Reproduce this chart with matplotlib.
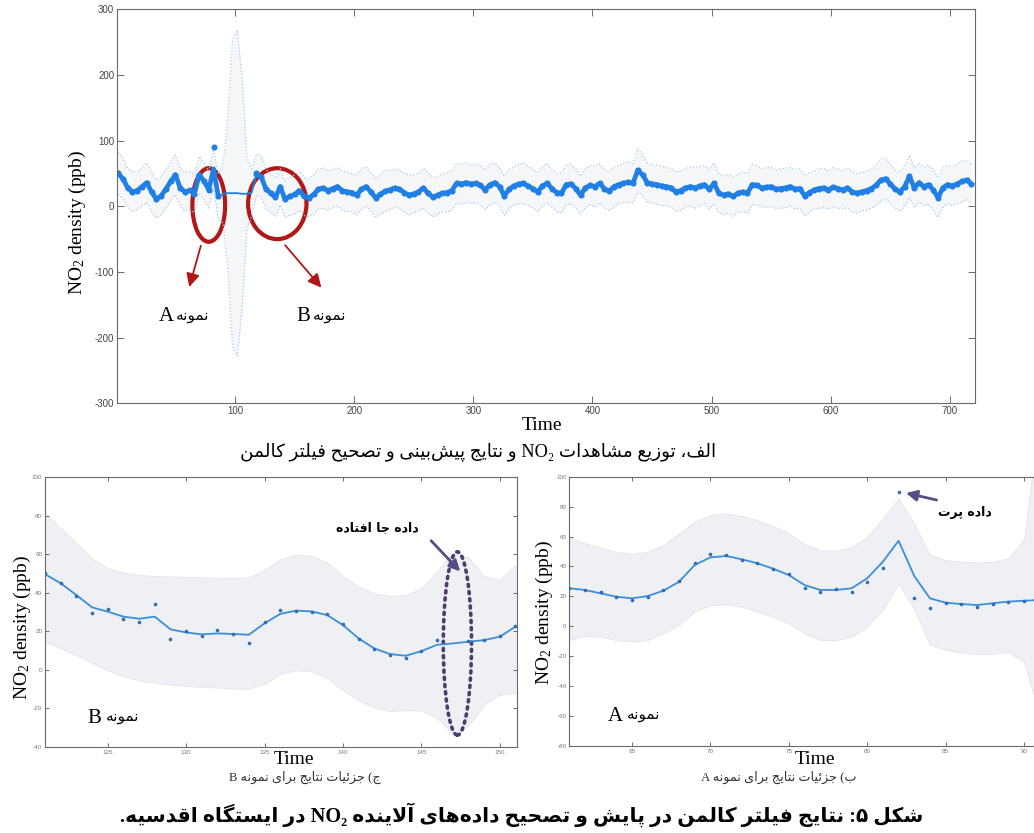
import numpy as np
import matplotlib
matplotlib.use('Agg')
import matplotlib.pyplot as plt
from matplotlib.patches import Ellipse

plt.rcParams['mathtext.fontset'] = 'custom'
plt.rcParams['mathtext.rm'] = 'Liberation Serif'
plt.rcParams['mathtext.it'] = 'Liberation Serif:italic'
plt.rcParams['axes.unicode_minus'] = False

# ---------------- data ----------------
# overview, every 4th hour (t = 2, 6, ..., 718); nan = missing observations
t_top = np.arange(2, 719, 4)
obs_top = np.array([
    50, 42, 28, 22, 24, 30, 36, 22, 11, 16,
    26, 38, 48, 28, 22, 24.3, 19.4, 48.1, 38.3, 25.2,
    89.8, 15.1, np.nan, np.nan, np.nan, np.nan, np.nan, np.nan, np.nan, 50,
    45.2, 26.2, 20.1, 13.7, 30.0, 10.6, 15.4, 18, 24, 15,
    13, 18, 26, 28, 24, 27, 30, 24, 22, 21,
    17, 26, 30, 22, 13, 18, 23, 25, 28, 26,
    21, 17, 19, 22, 28, 20, 14, 17, 20, 21,
    24, 35, 34, 36, 34, 35, 32, 25, 33, 36,
    30, 16, 26, 31, 34, 35, 31, 27, 22, 31,
    35, 27, 21, 20, 33, 34, 27, 17, 28, 32,
    30, 35, 27, 23, 30, 33, 35, 37, 35, 55,
    48, 36, 34, 33, 31, 30, 28, 22, 24, 28,
    30, 28, 31, 33, 26, 35, 20, 17, 19, 15,
    20, 22, 20, 33, 32, 28, 29, 30, 26, 27,
    28, 30, 26, 27, 16, 21, 25, 27, 28, 25,
    29, 27, 25, 28, 22, 20, 22, 24, 27, 32,
    40, 42, 34, 26, 22, 30, 46, 28, 36, 30,
    33, 25, 13, 28, 33, 31, 34, 38, 40, 34])
# filter estimate over t = 82 ... 118 (outlier and missing stretch)
est_gap = [57, 15, 19, 20, 20, 20, 19, 19, 21, 48]
# half width of the confidence band
hw_top = np.array([
    32, 31, 30, 30, 29, 29, 30, 30, 29, 29,
    29, 30, 30, 29, 29, 30, 29, 28, 28, 28,
    30, 34, 45, 115, 235, 248, 175, 55, 36, 32,
    31, 30, 29, 29, 28, 28, 29, 30, 30, 29,
    29, 30, 30, 31, 30, 29, 29, 30, 30, 29,
    30, 31, 30, 29, 30, 30, 31, 30, 29, 29,
    30, 30, 29, 29, 30, 31, 30, 29, 29, 30,
    30, 30, 31, 30, 29, 29, 30, 30, 31, 30,
    29, 30, 30, 29, 30, 31, 30, 29, 30, 30,
    30, 29, 29, 30, 31, 30, 30, 29, 30, 30,
    31, 30, 29, 30, 30, 29, 30, 31, 30, 33,
    31, 30, 29, 30, 30, 29, 29, 30, 30, 29,
    30, 31, 30, 29, 30, 31, 30, 29, 30, 30,
    29, 30, 30, 31, 30, 29, 30, 30, 29, 30,
    30, 29, 30, 30, 31, 30, 29, 30, 30, 29,
    30, 30, 29, 30, 31, 30, 29, 30, 30, 31,
    32, 31, 30, 29, 30, 31, 32, 30, 30, 29,
    30, 31, 30, 30, 29, 30, 30, 31, 30, 30])

# sample B, t = 121 ... 151
t_B = np.arange(121, 152)
obs_B = [50, 45.2, 38.5, 29.3, 31.4, 26.2, 25.0, 34.2, 16.1, 20.1,
         17.3, 20.5, 18.4, 13.7, 24.6, 30.9, 30.7, 30.0, 28.9, 23.8,
         16.0, 10.6, 7.8, 6.4, 9.7, 15.4, np.nan, 14.8, 15.4, 17.6, 22.8]
est_B = [49.6, 44.9, 38.8, 32.4, 30.2, 27.6, 26.5, 27.6, 21.0, 19.4,
         18.4, 18.9, 18.6, 18.2, 24.1, 29.0, 30.7, 30.3, 28.4, 23.2,
         16.3, 11.1, 8.2, 7.3, 9.7, 13.0, 13.7, 14.6, 15.4, 17.2, 22.4]
up_B = [81.3, 73.5, 65.7, 57.9, 52.7, 50.4, 49.2, 48.7, 48.4, 48.2,
        48.0, 47.8, 47.7, 48.0, 51.8, 57.4, 59.6, 59.1, 55.6, 48.7,
        43.2, 39.7, 38.3, 38.7, 42.3, 51.0, 60.8, 58.4, 48.7, 46.6, 54.4]
lo_B = [14.6, 11.1, 7.6, 3.7, -0.2, -3.3, -5.4, -6.7, -7.6, -8.3,
        -8.8, -9.2, -9.7, -9.9, -7.1, -2.2, -0.2, -0.7, -4.5, -10.5,
        -15.7, -19.6, -21.3, -20.9, -21, -25, -33, -29, -18, -13, -12]

# sample A, t = 61 ... 91
t_A = np.arange(61, 92)
obs_A = [25.4, 24.3, 22.7, 19.4, 17.8, 19.4, 24.3, 30.3, 42.5, 48.1,
         47.4, 44.3, 42.3, 38.3, 35.0, 25.4, 23.1, 25.2, 22.9, 29.4,
         38.7, 89.8, 18.7, 12.2, 15.8, 15.1, 13.1, 14.9, 16.5, 17.1, 17.6]
est_A = [25.4, 24.3, 22.0, 19.8, 18.7, 20.2, 23.8, 29.8, 41.0, 46.1,
         47.0, 44.8, 42.1, 38.5, 34.3, 27.6, 24.3, 24.3, 25.4, 32.1,
         43.2, 57.2, 33.6, 18.7, 15.8, 14.9, 14.2, 15.4, 16.5, 17.1, 17.6]
up_A = [59.9, 55.4, 52.7, 49.9, 48.3, 49.9, 54.3, 62.1, 69.9, 74.4,
        75.5, 73.7, 71.0, 67.0, 62.1, 55.0, 51.0, 50.5, 52.8, 59.9,
        72.2, 85.5, 68.8, 47.6, 44.3, 43.2, 42.7, 43.2, 45.5, 58, 140]
lo_A = [-9.2, -6.3, -7.0, -9.2, -10.3, -9.2, -4.7, 0.9, 9.8, 14.2,
        14.7, 13.1, 9.8, 6.4, 2.0, -4.7, -9.2, -9.2, -7.0, -0.2,
        10.9, 28.7, 10.9, -12.5, -15.8, -17.6, -18.5, -18.5, -17.0, -24, -60]

ylabel = r'NO$_2$ density (ppb)'
TXT_SAMPLE = 'نمونه'
TXT_OUTLIER = 'داده پرت'
TXT_MISSING = 'داده جا افتاده'
CAP_TOP = 'الف، توزیع مشاهدات NO₂ و نتایج پیش‌بینی و تصحیح فیلتر کالمن'
CAP_B = 'ج) جزئیات نتایج برای نمونه B'
CAP_A = 'ب) جزئیات نتایج برای نمونه A'
CAP_FIG = 'شکل ۵: نتایج فیلتر کالمن در پایش و تصحیح داده‌های آلاینده NO₂ در ایستگاه اقدسیه.'

# ------------- persian shaping (matplotlib has no complex text layout) -------------
FORMS = {
    'ا': ('\ufe8d', '\ufe8e'), 'آ': ('\ufe81', '\ufe82'),
    'د': ('\ufea9', '\ufeaa'), 'ر': ('\ufead', '\ufeae'),
    'ز': ('\ufeaf', '\ufeb0'), 'و': ('\ufeed', '\ufeee'),
    'ب': ('\ufe8f', '\ufe90', '\ufe91', '\ufe92'),
    'پ': ('\ufb56', '\ufb57', '\ufb58', '\ufb59'),
    'ت': ('\ufe95', '\ufe96', '\ufe97', '\ufe98'),
    'ج': ('\ufe9d', '\ufe9e', '\ufe9f', '\ufea0'),
    'ح': ('\ufea1', '\ufea2', '\ufea3', '\ufea4'),
    'س': ('\ufeb1', '\ufeb2', '\ufeb3', '\ufeb4'),
    'ش': ('\ufeb5', '\ufeb6', '\ufeb7', '\ufeb8'),
    'ص': ('\ufeb9', '\ufeba', '\ufebb', '\ufebc'),
    'ع': ('\ufec9', '\ufeca', '\ufecb', '\ufecc'),
    'ف': ('\ufed1', '\ufed2', '\ufed3', '\ufed4'),
    'ق': ('\ufed5', '\ufed6', '\ufed7', '\ufed8'),
    'ک': ('\ufb8e', '\ufb8f', '\ufb90', '\ufb91'),
    'گ': ('\ufb92', '\ufb93', '\ufb94', '\ufb95'),
    'ل': ('\ufedd', '\ufede', '\ufedf', '\ufee0'),
    'م': ('\ufee1', '\ufee2', '\ufee3', '\ufee4'),
    'ن': ('\ufee5', '\ufee6', '\ufee7', '\ufee8'),
    'ه': ('\ufee9', '\ufeea', '\ufeeb', '\ufeec'),
    'ی': ('\ufbfc', '\ufbfd', '\ufbfe', '\ufbff'),
    'ئ': ('\ufe89', '\ufe8a', '\ufe8b', '\ufe8c'),
}
MIRROR = {'(': ')', ')': '('}


def shape(s):
    out = []
    i = 0
    while i < len(s):
        ch = s[i]
        if ch not in FORMS:
            out.append(ch)
            i += 1
            continue
        prev = s[i - 1] if i else ''
        jp = prev in FORMS and len(FORMS[prev]) == 4
        if ch == 'ل' and s[i + 1:i + 2] == 'ا':
            out.append('\ufefc' if jp else '\ufefb')
            i += 2
            continue
        nxt = s[i + 1] if i + 1 < len(s) else ''
        f = FORMS[ch]
        jn = len(f) == 4 and nxt in FORMS
        if jp and jn:
            out.append(f[3])
        elif jp:
            out.append(f[1])
        elif jn:
            out.append(f[2])
        else:
            out.append(f[0])
        i += 1
    return ''.join(out).replace('\u200c', '')


def fa(s):
    runs = []
    for ch in shape(s):
        ltr = (ch.isascii() and ch.isalnum()) or ch == '\u2082'
        if runs and runs[-1][0] == ltr:
            runs[-1][1] += ch
        else:
            runs.append([ltr, ch])
    vis = ''
    for ltr, txt in reversed(runs):
        vis += txt if ltr else ''.join(MIRROR.get(c, c) for c in reversed(txt))
    return vis


SERIF = ['Liberation Serif', 'DejaVu Sans']
W, H = 1034, 833


def px(x, y):
    return x / W, 1 - y / H


def style(ax, size, color, length):
    ax.tick_params(direction='in', top=True, right=True, labelsize=size,
                   labelcolor=color, length=length, width=0.6, color='#555555', pad=2)
    for lab in ax.get_xticklabels() + ax.get_yticklabels():
        lab.set_fontfamily('Liberation Sans')
    for sp in ax.spines.values():
        sp.set_color('#6a6a6a')
        sp.set_linewidth(0.8)


fig = plt.figure(figsize=(W / 100, H / 100), dpi=100)

# ---------------- top overview ----------------
ax = fig.add_axes([117 / W, 1 - 403.3 / H, 858 / W, 394 / H])
center = obs_top.copy()
center[20:30] = est_gap
est_line = center.copy()
est_line[22:29] = np.nan
blue = '#1f7fe5'
ax.fill_between(t_top, center - hw_top, center + hw_top, color='#f5f6f7', lw=0)
ax.plot(t_top, center + hw_top, ls=':', color='#a7cbef', lw=0.9)
ax.plot(t_top, center - hw_top, ls=':', color='#a7cbef', lw=0.9)
ax.plot(t_top[21:30], center[21:30], color=blue, lw=1.3)
ax.plot(t_top, est_line, color=blue, lw=3.4)
ax.plot(t_top, obs_top, 'o', color=blue, ms=4.4, mec='none')
ax.set_xlim(1, 721)
ax.set_ylim(-300, 300)
ax.set_xticks([100, 200, 300, 400, 500, 600, 700])
ax.set_yticks([-300, -200, -100, 0, 100, 200, 300])
style(ax, 7, '#444444', 5)

red = '#b01818'
ax.add_patch(Ellipse((78, 2), 27.5, 112, fill=False, ec=red, lw=3))
ax.add_patch(Ellipse((135.5, 4), 49, 108, fill=False, ec=red, lw=3))
arrow_red = dict(arrowstyle='-|>', color=red, lw=1.3, mutation_scale=20)
ax.annotate('', xy=(61, -127), xytext=(72, -56), arrowprops=arrow_red)
ax.annotate('', xy=(174, -127), xytext=(140.6, -56), arrowprops=arrow_red)
ax.text(49, -168, 'A', family='Liberation Serif', fontsize=15, ha='right', va='center')
ax.text(50, -166, fa(TXT_SAMPLE), family='DejaVu Sans', fontsize=11, ha='left', va='center')
ax.text(163, -168, 'B', family='Liberation Serif', fontsize=15, ha='right', va='center')
ax.text(165, -166, fa(TXT_SAMPLE), family='DejaVu Sans', fontsize=11, ha='left', va='center')

fig.text(*px(77, 222), ylabel, family='Liberation Serif', fontsize=14,
         rotation=90, ha='center', va='center')
fig.text(*px(542, 425), 'Time', family='Liberation Serif', fontsize=14, ha='center', va='center')
fig.text(*px(478, 452), fa(CAP_TOP), family=SERIF, fontsize=13.2, ha='center', va='center')


def detail(rect, t, obs, est, up, lo, xlim, ylim, xt, yt):
    a = fig.add_axes(rect)
    a.fill_between(t, lo, up, color='#eef0f4', ec='#e1e5ec', lw=0.6)
    a.plot(t, est, color='#3b8ed8', lw=1.3)
    a.plot(t, obs, 'o', color='#2f6db5', ms=2.6, mec='none')
    a.set_xlim(*xlim)
    a.set_ylim(*ylim)
    a.set_xticks(xt)
    a.set_yticks(yt)
    style(a, 4.5, '#777777', 3)
    return a


# ---------------- sample B ----------------
axB = detail([45 / W, 1 - 747 / H, 472 / W, 270 / H], t_B, obs_B, est_B, up_B, lo_B,
             (121, 151.1), (-40, 100), range(125, 151, 5), range(-40, 101, 20))
purple = '#5a4a8a'
axB.add_patch(Ellipse((147.3, 13.7), 1.8, 95, fill=False, ec='#4a3d70', lw=2.6,
                      ls=(0, (0.6, 1.4)), capstyle='round'))
axB.annotate('', xy=(147.6, 50), xytext=(145.5, 68),
             arrowprops=dict(arrowstyle='-|>', color=purple, lw=2, mutation_scale=16))
axB.text(142.2, 74, fa(TXT_MISSING), family='DejaVu Sans', fontsize=9,
         fontweight='bold', ha='center', va='center')
axB.text(124.6, -25, 'B', family='Liberation Serif', fontsize=15, ha='right', va='center')
axB.text(124.9, -24, fa(TXT_SAMPLE), family='DejaVu Sans', fontsize=11, ha='left', va='center')
fig.text(*px(22, 627), ylabel, family='Liberation Serif', fontsize=14,
         rotation=90, ha='center', va='center')
fig.text(*px(294, 760), 'Time', family='Liberation Serif', fontsize=14, ha='center', va='center')
fig.text(*px(305, 777), fa(CAP_B), family=SERIF, fontsize=9.2, ha='center', va='center',
         color='#333333')

# ---------------- sample A ----------------
axA = detail([569.3 / W, 1 - 746 / H, 470.4 / W, 269.3 / H], t_A, obs_A, est_A, up_A, lo_A,
             (61, 91), (-80, 100), range(65, 91, 5), range(-80, 101, 20))
axA.annotate('', xy=(82.3, 89.5), xytext=(84.6, 84),
             arrowprops=dict(arrowstyle='-|>', color=purple, lw=2, mutation_scale=16))
axA.text(86.2, 76, fa(TXT_OUTLIER), family='DejaVu Sans', fontsize=9,
         fontweight='bold', ha='center', va='center')
axA.text(64.4, -60, 'A', family='Liberation Serif', fontsize=15, ha='right', va='center')
axA.text(64.7, -59, fa(TXT_SAMPLE), family='DejaVu Sans', fontsize=11, ha='left', va='center')
fig.text(*px(544, 612), ylabel, family='Liberation Serif', fontsize=14,
         rotation=90, ha='center', va='center')
fig.text(*px(815, 760), 'Time', family='Liberation Serif', fontsize=14, ha='center', va='center')
fig.text(*px(779, 777), fa(CAP_A), family=SERIF, fontsize=9.2, ha='center', va='center',
         color='#333333')

fig.text(*px(522, 815), fa(CAP_FIG), family=SERIF, fontsize=14.6, fontweight='bold',
         ha='center', va='center')

fig.savefig('out.png', dpi=100)
